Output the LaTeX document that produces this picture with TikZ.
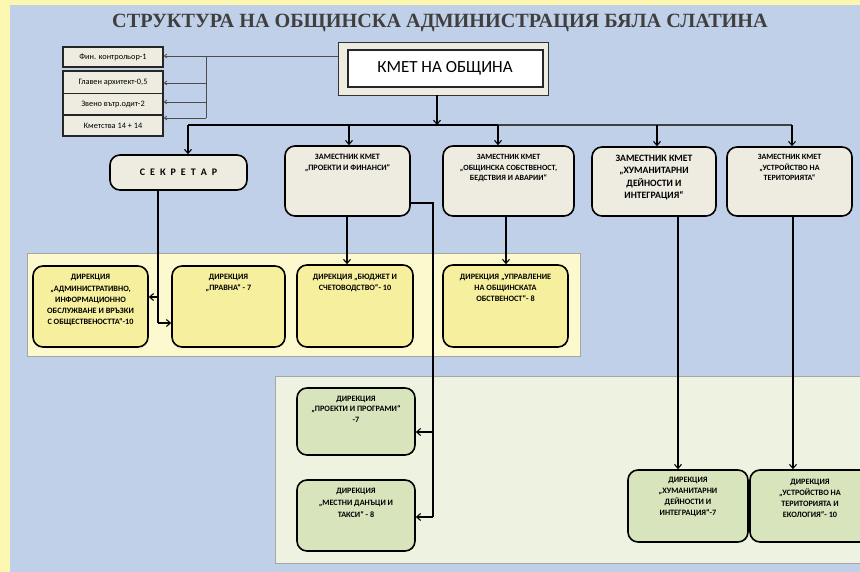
\documentclass[tikz,border=0pt]{standalone}
\usepackage{fontspec}
\setmainfont{Carlito}
\newfontfamily\titlefont{Liberation Serif}
\usetikzlibrary{arrows.meta}
\definecolor{outery}{HTML}{FBF7B0}
\definecolor{bgblue}{HTML}{C0D0E8}
\definecolor{beige}{HTML}{EEECE1}
\definecolor{ybox}{HTML}{F6EF9E}
\definecolor{ypanel}{HTML}{FDF9CF}
\definecolor{gbox}{HTML}{D8E4BC}
\definecolor{gpanel}{HTML}{EDF2E1}
\definecolor{titlegray}{HTML}{3F3F3F}
\tikzset{
  box/.style={draw=black, line width=1.6pt, rounded corners=10pt, inner sep=0pt},
  zambox/.style={box, fill=beige},
  ydir/.style={box, fill=ybox},
  gdir/.style={box, fill=gbox},
  smallbox/.style={draw=black!85, line width=1.6pt, fill=beige, inner sep=0pt, font=\fontsize{8.3}{9}\selectfont},
  lbl/.style={anchor=north, align=center, inner sep=0pt, font=\bfseries\fontsize{8.2}{11}\selectfont},
  conn/.style={draw=black, line width=1.1pt, -{Straight Barb[length=4pt,width=7pt]}},
  line/.style={draw=black, line width=1.1pt},
  thin/.style={draw=black!70, line width=0.8pt},
  thinarr/.style={thin, -{Straight Barb[length=2.5pt,width=4pt]}},
  panel/.style={draw=black!35, line width=0.8pt}
}
\begin{document}
\begin{tikzpicture}[x=1pt,y=-1pt]
\useasboundingbox (0,0) rectangle (860,572);
\fill[outery] (0,0) rectangle (860,572);
\fill[bgblue] (10,5) rectangle (860,572);
% panels
\path[panel, fill=ypanel] (27,253) rectangle (580,356);
\path[panel, fill=gpanel] (275,376) rectangle (870,563);
% title
\node (title) at (440,23) {\titlefont\bfseries\fontsize{20.2}{22}\selectfont\color{titlegray}СТРУКТУРА НА ОБЩИНСКА АДМИНИСТРАЦИЯ БЯЛА СЛАТИНА};
% mayor
\node[draw=black!80, line width=0.8pt, fill=beige, minimum width=210pt, minimum height=53pt] (mayor) at (443,68.5) {};
\node[draw=black!85, line width=2pt, fill=white, minimum width=195pt, minimum height=37pt, font=\fontsize{17}{19}\selectfont] (mayorin) at (445,68.5) {КМЕТ НА ОБЩИНА};
% small boxes
\node[smallbox, minimum width=100pt, minimum height=20pt] (fin) at (113,57) {Фин. контрольор-1};
\node[smallbox, minimum width=100pt, minimum height=23pt] (glav) at (113,82.5) {Главен архитект-0,5};
\node[smallbox, minimum width=100pt, minimum height=22pt] (zveno) at (113,104.5) {Звено вътр.одит-2};
\node[smallbox, minimum width=100pt, minimum height=21pt] (kmetstva) at (113,125.5) {Кметства 14 + 14};
\coordinate (lj) at (206,56);
\coordinate (lj2) at (206,83);
\coordinate (lj3) at (206,102);
\coordinate (lj4) at (206,118);
\draw[thin] ([yshift=12.5pt]mayor.west) -- (lj) -- (lj4);
\draw[thinarr] (lj) -- (fin.east |- lj);
\draw[thinarr] (lj2) -- (glav.east |- lj2);
\draw[thinarr] (lj3) -- (zveno.east |- lj3);
\draw[thinarr] (lj4) -- (kmetstva.east |- lj4);
% deputy boxes
\node[zambox, minimum width=137pt, minimum height=35pt, font=\bfseries\fontsize{10}{11}\selectfont] (sec) at (178.5,172.5) {С\,\,\,Е\,\,\,К\,\,\,Р\,\,\,Е\,\,\,Т\,\,\,А\,\,\,Р};
\node[zambox, minimum width=125pt, minimum height=70pt] (zam1) at (347.5,181) {};
\node[lbl, font=\bfseries\fontsize{8.2}{10.5}\selectfont] (zam1t) at ([yshift=-9pt]zam1.north) {ЗАМЕСТНИК КМЕТ\\„ПРОЕКТИ И ФИНАНСИ“};
\node[zambox, minimum width=131pt, minimum height=70pt] (zam2) at (508.5,181) {};
\node[lbl, font=\bfseries\fontsize{8}{10.5}\selectfont] (zam2t) at ([yshift=-9pt]zam2.north) {ЗАМЕСТНИК КМЕТ\\„ОБЩИНСКА СОБСТВЕНОСТ,\\БЕДСТВИЯ И АВАРИИ“};
\node[zambox, minimum width=124pt, minimum height=69pt] (zam3) at (654,181.5) {};
\node[lbl, font=\bfseries\fontsize{9.7}{12.2}\selectfont] (zam3t) at ([yshift=-9pt]zam3.north) {ЗАМЕСТНИК КМЕТ\\„ХУМАНИТАРНИ\\ДЕЙНОСТИ И\\ИНТЕГРАЦИЯ“};
\node[zambox, minimum width=125pt, minimum height=69pt] (zam4) at (789.5,181.5) {};
\node[lbl, font=\bfseries\fontsize{8}{10.5}\selectfont] (zam4t) at ([yshift=-8pt]zam4.north) {ЗАМЕСТНИК КМЕТ\\„УСТРОЙСТВО НА\\ТЕРИТОРИЯТА“};
% bus
\coordinate (b0) at (437,125);
\coordinate (b1) at (188,125);
\coordinate (b2) at (349,125);
\coordinate (b3) at (498,125);
\coordinate (b4) at (657,125);
\coordinate (b5) at (792,125);
\draw[conn] ([xshift=-6pt]mayor.south) -- (b0);
\draw[line] (b1) -- (b3);
\draw[line, draw=black!75] (b3) -- (b5);
\draw[conn] (b1) -- (b1 |- sec.north);
\draw[conn] (b2) -- (b2 |- zam1.north);
\draw[conn] (b3) -- (b3 |- zam2.north);
\draw[conn] (b4) -- (b4 |- zam3.north);
\draw[conn] (b5) -- (b5 |- zam4.north);
% yellow directorates
\node[ydir, minimum width=115pt, minimum height=81pt] (d1) at (90.5,306.5) {};
\node[lbl, font=\bfseries\fontsize{8.2}{11.3}\selectfont] (d1t) at ([yshift=-9pt]d1.north) {ДИРЕКЦИЯ\\„АДМИНИСТРАТИВНО,\\ИНФОРМАЦИОННО\\ОБСЛУЖВАНЕ И ВРЪЗКИ\\С ОБЩЕСТВЕНОСТТА“-10};
\node[ydir, minimum width=113pt, minimum height=81pt] (d2) at (228.5,306.5) {};
\node[lbl] (d2t) at ([yshift=-9pt]d2.north) {ДИРЕКЦИЯ\\„ПРАВНА“ - 7};
\node[ydir, minimum width=116pt, minimum height=82pt] (d3) at (355,306) {};
\node[lbl] (d3t) at ([yshift=-10pt]d3.north) {ДИРЕКЦИЯ „БЮДЖЕТ И\\СЧЕТОВОДСТВО“- 10};
\node[ydir, minimum width=125pt, minimum height=82pt] (d4) at (505.5,306) {};
\node[lbl] (d4t) at ([yshift=-10pt]d4.north) {ДИРЕКЦИЯ „УПРАВЛЕНИЕ\\НА ОБЩИНСКАТА\\ОБСТВЕНОСТ“- 8};
% green directorates
\node[gdir, minimum width=118pt, minimum height=67pt] (d5) at (356,421.5) {};
\node[lbl, font=\bfseries\fontsize{8.2}{10.2}\selectfont] (d5t) at ([yshift=-9pt]d5.north) {ДИРЕКЦИЯ\\„ПРОЕКТИ И ПРОГРАМИ“\\-7};
\node[gdir, minimum width=118pt, minimum height=71pt] (d6) at (356,515.5) {};
\node[lbl, font=\bfseries\fontsize{8.2}{12}\selectfont] (d6t) at ([yshift=-9pt]d6.north) {ДИРЕКЦИЯ\\„МЕСТНИ ДАНЪЦИ И\\ТАКСИ“ - 8};
\node[gdir, minimum width=120pt, minimum height=72pt] (d7) at (688,506) {};
\node[lbl] (d7t) at ([yshift=-8pt]d7.north) {ДИРЕКЦИЯ\\„ХУМАНИТАРНИ\\ДЕЙНОСТИ И\\ИНТЕГРАЦИЯ“-7};
\node[gdir, minimum width=120pt, minimum height=72pt] (d8) at (810,506) {};
\node[lbl] (d8t) at ([yshift=-10pt]d8.north) {ДИРЕКЦИЯ\\„УСТРОЙСТВО НА\\ТЕРИТОРИЯТА И\\ЕКОЛОГИЯ“- 10};
% secretary connectors
\coordinate (s1) at (158,297);
\coordinate (s2) at (158,323);
\draw[line] (sec.south -| s1) -- (s2);
\draw[conn] (s1) -- (d1.east |- s1);
\draw[conn] (s2) -- (d2.west |- s2);
% deputies to directorates
\draw[conn] (zam1.south -| 347,0) -- (d3.north -| 347,0);
\draw[conn] (zam2.south -| 506,0) -- (d4.north -| 506,0);
\coordinate (p1) at (433,203);
\coordinate (p2) at (433,432);
\coordinate (p3) at (433,517);
\draw[line] (zam1.east |- p1) -- (p1) -- (p3);
\draw[conn] (p2) -- (d5.east |- p2);
\draw[conn] (p3) -- (d6.east |- p3);
\draw[conn] (zam3.south -| 678,0) -- (d7.north -| 678,0);
\draw[conn] (zam4.south -| 793,0) -- (d8.north -| 793,0);
\end{tikzpicture}
\end{document}
